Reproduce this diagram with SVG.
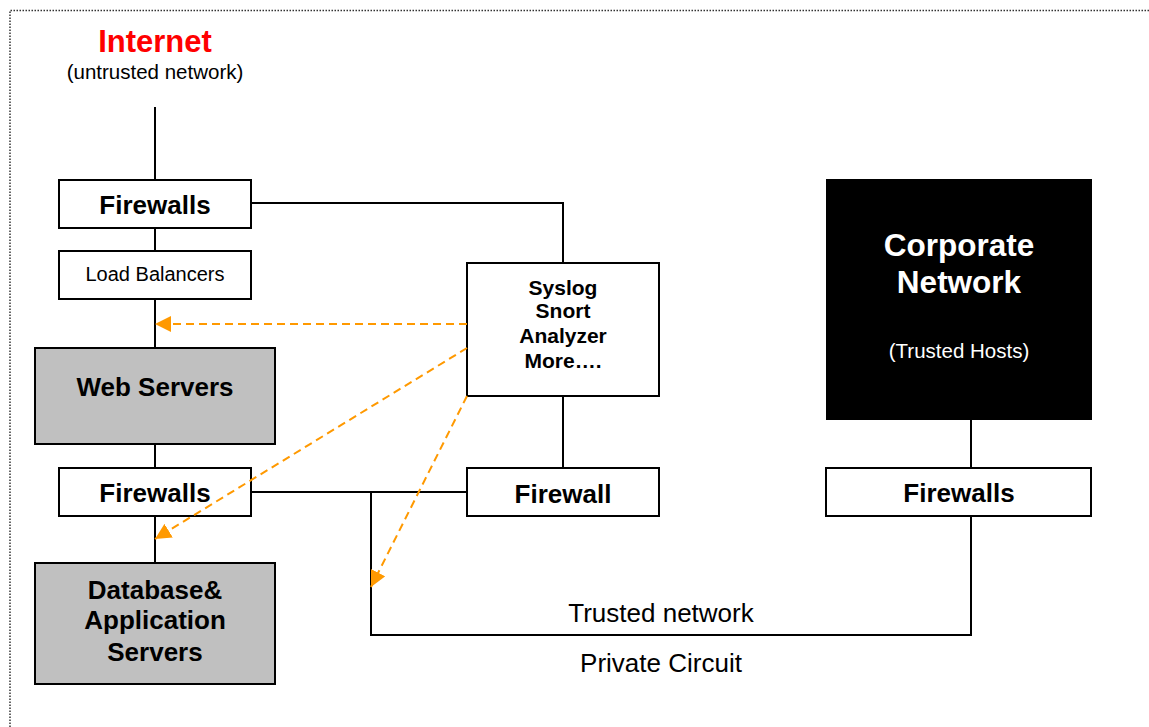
<svg xmlns="http://www.w3.org/2000/svg" width="1149" height="727" viewBox="0 0 1149 727">
<style>
  text { font-family: "Liberation Sans", Arial, sans-serif; text-anchor: middle; fill: #000; }
  .box { fill: #fff; stroke: #000; stroke-width: 2; }
  .grey { fill: #c0c0c0; stroke: #000; stroke-width: 2; }
  .b { font-weight: bold; }
  .wire { fill: none; stroke: #000; stroke-width: 2; }
  .mon { fill: none; stroke: #ff9900; stroke-width: 2; stroke-dasharray: 8,5; marker-end: url(#ah); }
</style>
<defs>
  <marker id="ah" markerUnits="userSpaceOnUse" markerWidth="16" markerHeight="16" refX="16" refY="8" orient="auto">
    <path d="M0,0 L16,8 L0,16 z" fill="#ff9900"/>
  </marker>
</defs>
<rect width="1149" height="727" fill="#fff"/>
<path d="M10,727 V10.5 H1149" fill="none" stroke="#333" stroke-width="1.5" stroke-dasharray="1.5,1.5"/>

<g id="internet">
  <text x="155" y="52" class="b" font-size="31" style="fill:#ff0000">Internet</text>
  <text x="155" y="79" font-size="20.5">(untrusted network)</text>
</g>

<g id="firewalls-top">
  <rect class="box" x="59" y="180" width="192" height="48"/>
  <text x="155" y="214" class="b" font-size="26">Firewalls</text>
</g>

<g id="load-balancers">
  <rect class="box" x="59" y="251" width="192" height="48"/>
  <text x="155" y="281" font-size="20">Load Balancers</text>
</g>

<g id="web-servers">
  <rect class="grey" x="35" y="348" width="240" height="96"/>
  <text x="155" y="396" class="b" font-size="26">Web Servers</text>
</g>

<g id="firewalls-mid">
  <rect class="box" x="59" y="468" width="192" height="48"/>
  <text x="155" y="502" class="b" font-size="26">Firewalls</text>
</g>

<g id="db-app-servers">
  <rect class="grey" x="35" y="563" width="240" height="121"/>
  <text x="155" y="599" class="b" font-size="26">Database&amp;</text>
  <text x="155" y="629" class="b" font-size="26">Application</text>
  <text x="155" y="661" class="b" font-size="26">Servers</text>
</g>

<g id="syslog">
  <rect class="box" x="467" y="263" width="192" height="133"/>
  <text x="563" y="295" class="b" font-size="21">Syslog</text>
  <text x="563" y="318" class="b" font-size="21">Snort</text>
  <text x="563" y="343" class="b" font-size="21">Analyzer</text>
  <text x="563" y="368" class="b" font-size="21">More….</text>
</g>

<g id="firewall-center">
  <rect class="box" x="467" y="468" width="192" height="48"/>
  <text x="563" y="503" class="b" font-size="26">Firewall</text>
</g>

<g id="corporate-network">
  <rect x="826" y="179" width="266" height="241" fill="#000"/>
  <text x="959" y="256" class="b" font-size="31.5" style="fill:#fff">Corporate</text>
  <text x="959" y="293" class="b" font-size="31.5" style="fill:#fff">Network</text>
  <text x="959" y="358" font-size="20.5" style="fill:#fff">(Trusted Hosts)</text>
</g>

<g id="firewalls-right">
  <rect class="box" x="826" y="468" width="265" height="48"/>
  <text x="959" y="502" class="b" font-size="26">Firewalls</text>
</g>

<g id="trusted-network">
  <text x="661" y="622" font-size="26">Trusted network</text>
  <text x="661" y="672" font-size="26">Private Circuit</text>
</g>

<g id="connectors">
  <path class="wire" d="M155,107 V179"/>
  <path class="wire" d="M155,229 V250"/>
  <path class="wire" d="M155,300 V347"/>
  <path class="wire" d="M155,445 V467"/>
  <path class="wire" d="M155,517 V562"/>
  <path class="wire" d="M252,203 H563 V262"/>
  <path class="wire" d="M563,397 V467"/>
  <path class="wire" d="M252,492 H466"/>
  <path class="wire" d="M371,492 V635 H971 V517"/>
  <path class="wire" d="M971,420 V467"/>
  <path class="mon" d="M467,324 H155"/>
  <path class="mon" d="M467,348 L155,539"/>
  <path class="mon" d="M467,396 L371,587"/>
</g>
</svg>
